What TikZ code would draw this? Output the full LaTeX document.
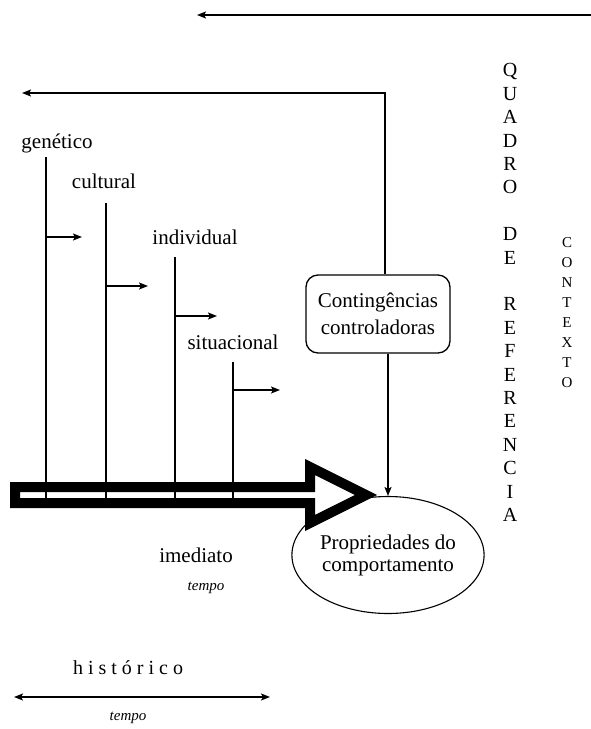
\documentclass[tikz,border=0pt]{standalone}
\usepackage{fontspec}
\setmainfont{Liberation Serif}
\usetikzlibrary{arrows.meta, shapes.geometric}

\begin{document}
\begin{tikzpicture}[x=1pt, y=-1pt,
    every node/.style={font=\fontsize{21}{27}\selectfont, inner sep=0pt},
    seta/.style={line width=1.6pt, -{Stealth[length=9pt,width=7pt,inset=2pt]}},
    haste/.style={line width=1.6pt},
    caixa/.style={draw, line width=1.3pt, rounded corners=12pt, minimum width=144pt, minimum height=78pt, align=center},
    elipse/.style={draw, ellipse, line width=1.1pt, minimum width=146pt, minimum height=117pt, align=center},
    tempo/.style={font=\itshape\fontsize{15}{17}\selectfont}]
    \useasboundingbox (0,0) rectangle (591,729);

    % Setas de cima
    \coordinate (t1) at (591,15);
    \coordinate (t2) at (197,15);
    \draw[seta, line width=2pt] (t1) -- (t2);

    % Contingencias e comportamento
    \node[caixa] (cont) at (378,314) {Contingências\\controladoras};
    \node[elipse, font=\fontsize{21}{22}\selectfont] (prop) at (388,555) {Propriedades do\\comportamento};
    \coordinate (c1) at (385,93);
    \coordinate (c2) at (22,93);
    \draw[seta, line width=2pt] (cont.north -| c1) -- (c1) -- (c2);
    \draw[seta] (cont.south -| prop.north) -- (prop.north);

    % Seta larga
    \draw[line width=10pt, line join=miter] (15,487) -- (310,487) -- (310,467) -- (366,495)
        -- (310,523) -- (310,503) -- (15,503) -- cycle;

    % Niveis
    \node (gen) at (57,143) {genético};
    \node (cul) at (104,181) {cultural};
    \node (ind) at (195,237) {individual};
    \node (sit) at (233,342) {situacional};

    \coordinate (g1) at (46,157);  \coordinate (g2) at (46,498);  \coordinate (g3) at (46,237);
    \coordinate (k1) at (106,203); \coordinate (k2) at (106,498); \coordinate (k3) at (106,286);
    \coordinate (i1) at (175,257); \coordinate (i2) at (175,498); \coordinate (i3) at (175,316);
    \coordinate (s1) at (233,362); \coordinate (s2) at (233,498); \coordinate (s3) at (233,390);
    \draw[haste] (g1) -- (g2);
    \draw[haste] (k1) -- (k2);
    \draw[haste] (i1) -- (i2);
    \draw[haste] (s1) -- (s2);
    \draw[seta] (g3) -- ++(36,0);
    \draw[seta] (k3) -- ++(42,0);
    \draw[seta] (i3) -- ++(42,0);
    \draw[seta] (s3) -- ++(47,0);

    % Tempo
    \node (imed) at (196,555) {imediato};
    \node[tempo] (tp1) at (206,588) {tempo};
    \node[font=\fontsize{20}{22}\selectfont] (hist) at (128,668)
        {h\hspace{5pt}i\hspace{5pt}s\hspace{5pt}t\hspace{5pt}ó\hspace{5pt}r\hspace{5pt}i\hspace{5pt}c\hspace{5pt}o};
    \coordinate (h1) at (14,697);
    \coordinate (h2) at (270,697);
    \draw[seta, {Stealth[length=9pt,width=7pt,inset=2pt]}-{Stealth[length=9pt,width=7pt,inset=2pt]}] (h1) -- (h2);
    \node[tempo] (tp2) at (128,718) {tempo};

    % Quadro de referencia e contexto
    \node[align=center, font=\fontsize{20}{23.4}\selectfont] (quadro) at (510,292.5)
        {Q\\U\\A\\D\\R\\O\\[23.4pt]D\\E\\[23.4pt]R\\E\\F\\E\\R\\E\\N\\C\\I\\A};
    \node[align=center, font=\fontsize{15}{19.9}\selectfont] (contexto) at (567,312.5)
        {C\\O\\N\\T\\E\\X\\T\\O};
\end{tikzpicture}
\end{document}
